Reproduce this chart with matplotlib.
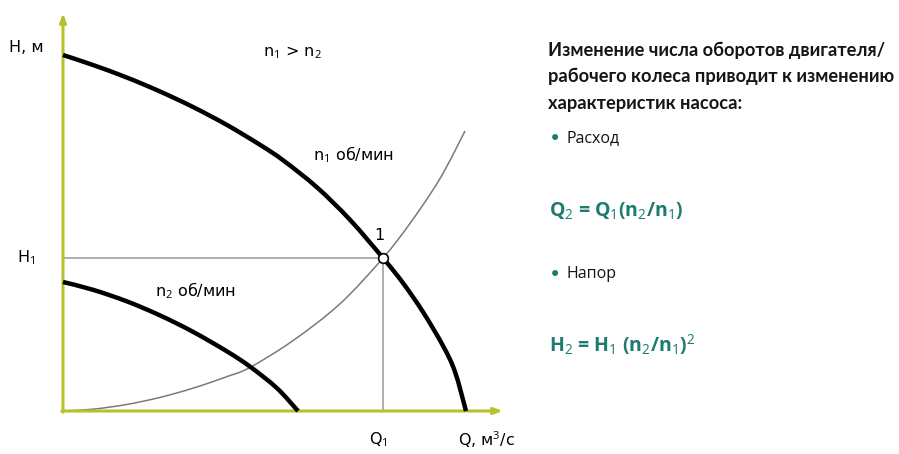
import matplotlib
matplotlib.use("Agg")
import matplotlib.pyplot as plt
from matplotlib.path import Path
from matplotlib.patches import PathPatch
from matplotlib import font_manager
import numpy as np

# ---- data (Q and H in arbitrary units) ----
q_n1 = [0, 7.5, 16, 24.25, 32.5, 41, 49.25, 55, 63.5, 71.75, 80, 85, 90, 95, 98, 100.75]
h_n1 = [89, 86.5, 83.35, 79.88, 76, 71.5, 66.55, 62.7, 55.9, 47.8, 38.25, 32, 24.75, 16.3, 9.8, 0]

q_n2 = [0, 7.5, 16, 24.25, 32.5, 41, 46.75, 53.5, 58.75]
h_n2 = [32.25, 30.3, 27.4, 23.9, 19.8, 14.9, 11.1, 5.7, 0]

q_sys = [0, 7.5, 16, 24.25, 32.5, 41, 46.75, 57.5, 69.25, 80, 86.75, 94.25, 100.5]
h_sys = [0, 0.45, 1.65, 3.4, 5.7, 8.6, 10.9, 17.6, 26.8, 38.25, 46.9, 58.1, 70.0]

Q1 = 80
H1 = 38.25
Q_axis_max = 110
H_axis_max = 99.5

axis_labels = ["H, м", "Q, м$^3$/с"]
curve_labels = ["n$_1$ об/мин", "n$_2$ об/мин", "n$_1$ > n$_2$"]
point_label = "1"

title_lines = ["Изменение числа оборотов двигателя/",
               "рабочего колеса приводит к изменению",
               "характеристик насоса:"]
bullets = ["Расход", "Напор"]
formulas = ["Q$_2$ = Q$_1$(n$_2$/n$_1$)", "H$_2$ = H$_1$ (n$_2$/n$_1$)$^2$"]

AXIS_COLOR = "#b7c12c"
TEAL = "#1d7b70"

plt.rcParams["font.family"] = ["DejaVu Sans"]
plt.rcParams["mathtext.fontset"] = "custom"
plt.rcParams["mathtext.rm"] = "DejaVu Sans"
plt.rcParams["mathtext.default"] = "rm"

fig = plt.figure(figsize=(8.99, 4.54), dpi=100)
ax = fig.add_axes([0, 0, 1, 1])
ax.set_xlim(-15.75, 209)
ax.set_ylim(-10.75, 102.75)
ax.axis("off")


def smooth_curve(ax, xs, ys, **kw):
    """Draw a smooth curve through the given points using cubic Bezier segments."""
    p = np.column_stack([xs, ys]).astype(float)
    n = len(p)
    verts = [p[0]]
    codes = [Path.MOVETO]
    for i in range(n - 1):
        p0 = p[i - 1] if i > 0 else p[i]
        p1 = p[i]
        p2 = p[i + 1]
        p3 = p[i + 2] if i + 2 < n else p[i + 1]
        c1 = p1 + (p2 - p0) / 6.0
        c2 = p2 - (p3 - p1) / 6.0
        verts += [c1, c2, p2]
        codes += [Path.CURVE4] * 3
    patch = PathPatch(Path(verts, codes), fill=False, **kw)
    ax.add_patch(patch)


# axes with arrows
arrow = dict(arrowstyle="-|>,head_length=0.5,head_width=0.18",
             color=AXIS_COLOR, lw=2.2, shrinkA=0, shrinkB=0)
ax.annotate("", xy=(0, H_axis_max), xytext=(0, -0.3), arrowprops=arrow)
ax.annotate("", xy=(Q_axis_max, 0), xytext=(-0.3, 0), arrowprops=arrow)

# guide lines
ax.plot([0, Q1], [H1, H1], color="#a8a8a8", lw=1.3, zorder=1)
ax.plot([Q1, Q1], [0, H1], color="#a8a8a8", lw=1.3, zorder=1)

# curves
smooth_curve(ax, q_sys, h_sys, edgecolor="#7a7a7a", lw=1.1, zorder=2)
smooth_curve(ax, q_n1, h_n1, edgecolor="black", lw=3.2, capstyle="butt", zorder=3)
smooth_curve(ax, q_n2, h_n2, edgecolor="black", lw=3.2, capstyle="butt", zorder=3)
ax.plot([Q1], [H1], marker="o", ms=7, mfc="white", mec="black", mew=1.2, zorder=4)

fs = 11.5
ax.text(-13.5, 91, axis_labels[0], fontsize=fs, ha="left", va="center")
ax.text(-11.5, H1, "H$_1$", fontsize=fs, ha="left", va="center")
ax.text(Q1 - 3.5, -7.2, "Q$_1$", fontsize=fs, ha="left", va="center")
ax.text(98.7, -7.2, axis_labels[1], fontsize=fs, ha="left", va="center")
ax.text(62.5, 64, curve_labels[0], fontsize=fs, ha="left", va="center")
ax.text(23, 30, curve_labels[1], fontsize=fs, ha="left", va="center")
ax.text(50, 89.7, curve_labels[2], fontsize=fs, ha="left", va="center")
ax.text(Q1 - 0.8, H1 + 5.5, point_label, fontsize=fs, ha="center", va="center")


# right-hand text (figure pixel coords)
def px(x, y):
    return x / 899, 1 - y / 454


available = {f.name for f in font_manager.fontManager.ttflist}
title_family = "Liberation Sans Narrow" if "Liberation Sans Narrow" in available else "Lato"
tfont = [title_family, "DejaVu Sans"]

renderer = fig.canvas.get_renderer()
title_texts = []
for i, line in enumerate(title_lines):
    t = fig.text(*px(548, 50 + 26.5 * i), line, fontsize=13, fontweight="bold",
                 family=tfont, ha="left", va="center", color="#151515")
    title_texts.append(t)
# fit the widest line to the reference width (~347 px)
w = max(t.get_window_extent(renderer).width for t in title_texts)
new_fs = 13 * 346.0 / w
for t in title_texts:
    t.set_fontsize(new_fs)

bullet_y = [138, 274]
formula_y = [210, 345]
for b, yb in zip(bullets, bullet_y):
    fig.text(*px(549, yb + 1), "•", fontsize=15, color=TEAL, ha="left", va="center",
             family=["DejaVu Sans"])
    fig.text(*px(567, yb), b, fontsize=11.5, color="#111111", ha="left", va="center",
             family=["Open Sans", "DejaVu Sans"])
plt.rcParams["mathtext.rm"] = "Open Sans"
plt.rcParams["mathtext.bf"] = "Open Sans:bold"
for f, yf in zip(formulas, formula_y):
    fig.text(*px(549, yf), f, fontsize=14, color=TEAL, fontweight="bold",
             ha="left", va="center", family=["Open Sans", "DejaVu Sans"])

fig.savefig("out.png", dpi=100, facecolor="white")
